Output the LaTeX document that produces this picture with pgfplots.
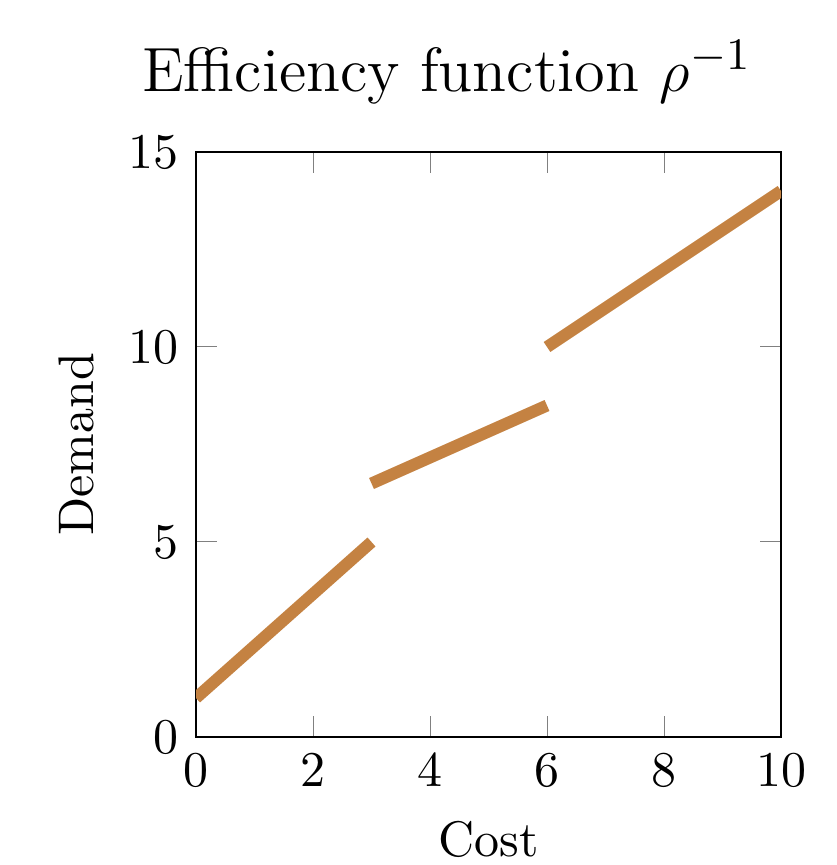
\documentclass[border=0pt]{standalone}
\usepackage{pgfplots}
\pgfplotsset{compat=1.18}
\definecolor{segcol}{RGB}{196,130,66}
\begin{document}
\begin{tikzpicture}
\begin{axis}[
  width=117pt, height=117pt, scale only axis,
  xmin=0, xmax=10, ymin=0, ymax=15,
  xtick={0,2,4,6,8,10}, ytick={0,5,10,15},
  title={Efficiency function $\rho^{-1}$},
  title style={font=\fontsize{12.5}{15}\selectfont, xshift=-8.3pt},
  xlabel={Cost}, ylabel={Demand},
]
\addplot[segcol, line width=2.4pt] coordinates {(0,1) (3,5)};
\addplot[segcol, line width=2.4pt] coordinates {(3,6.5) (6,8.5)};
\addplot[segcol, line width=2.4pt] coordinates {(6,10) (10,14)};
\coordinate (SW) at (rel axis cs:0,0);
\coordinate (NE) at (rel axis cs:1,1);
\end{axis}
\pgfresetboundingbox
\path ([shift={(-39.2pt,-25.6pt)}]SW) rectangle ([shift={(11pt,30.4pt)}]NE);
\end{tikzpicture}
\end{document}
